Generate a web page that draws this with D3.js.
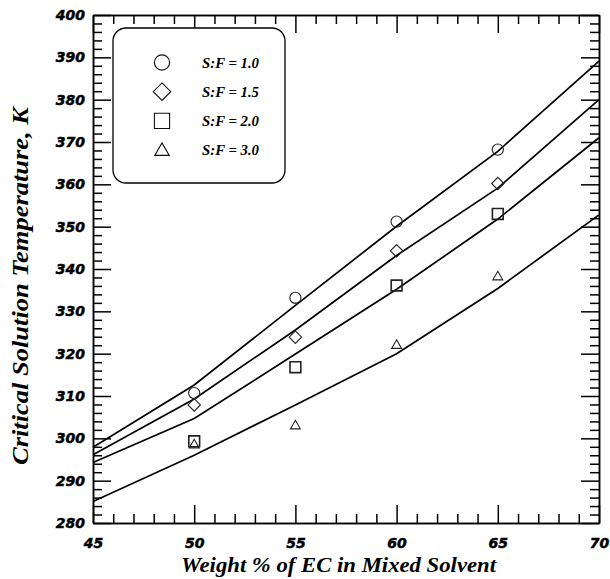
<!DOCTYPE html>
<meta charset="utf-8">
<script src="https://d3js.org/d3.v7.min.js"></script>
<style>
  body { margin: 0; background: #fff; }
  .tick text { font-family: "DejaVu Sans", sans-serif; font-weight: bold; font-style: italic; font-size: 14px; fill: #000; stroke: #000; stroke-width: 0.5px; }
  .axis path, .axis line { stroke: #000; stroke-width: 1.5; }
  .lbl { font-family: "Liberation Serif", serif; font-weight: bold; font-style: italic; fill: #000; }
</style>
<div id="chart"></div>
<script>
    // weight % of EC where the model lines are given
    const wt = [45, 50, 55, 60, 65, 70];
    const line10 = [297.9, 312.6, 331.4, 350.1, 367.8, 389.1];
    const line15 = [296.1, 309.3, 325.6, 343.2, 359.1, 380.0];
    const line20 = [294.3, 304.7, 319.9, 335.2, 351.8, 371.0];
    const line30 = [285.1, 296.0, 307.9, 320.0, 335.4, 352.8];

    // experimental points
    const wtExp = [50, 55, 60, 65];
    const exp10 = [310.7, 333.2, 351.2, 368.2];
    const exp15 = [307.9, 323.9, 344.3, 360.2];
    const exp20 = [299.3, 316.8, 336.1, 353.0];
    const exp30 = [298.6, 303.1, 322.1, 338.3];

    const seriesNames = ["S:F = 1.0", "S:F = 1.5", "S:F = 2.0", "S:F = 3.0"];
    const shapes = ["circle", "diamond", "square", "triangle"];

    const xTicks = [45, 50, 55, 60, 65, 70];
    const yTicks = [280, 290, 300, 310, 320, 330, 340, 350, 360, 370, 380, 390, 400];

    const margin = {top: 15, right: 11, bottom: 56, left: 93},
          width = 610 - margin.left - margin.right,
          height = 579 - margin.top - margin.bottom;

    const svg = d3.select("#chart")
                .append("svg")
                .attr("width", 610)
                .attr("height", 579)
                .append("g")
                .attr("transform", `translate(${margin.left}, ${margin.top})`);

    const x = d3.scaleLinear().domain([45, 70]).range([0, width]);
    const y = d3.scaleLinear().domain([280, 400]).range([height, 0]);

    const xMinor = d3.range(45, 71, 1).filter(d => d % 5 !== 0);
    const yMinor = d3.range(280, 401, 2).filter(d => d % 10 !== 0);

    // bottom axis
    svg.append("g").attr("class", "axis")
        .attr("transform", `translate(0, ${height})`)
        .call(d3.axisBottom(x).tickValues(xTicks).tickSize(-18).tickSizeOuter(0).tickPadding(15));
    svg.append("g").attr("class", "axis")
        .attr("transform", `translate(0, ${height})`)
        .call(d3.axisBottom(x).tickValues(xMinor).tickSize(-9).tickSizeOuter(0).tickFormat(""));
    // top axis
    svg.append("g").attr("class", "axis")
        .call(d3.axisTop(x).tickValues(xTicks).tickSize(-18).tickSizeOuter(0).tickFormat(""));
    svg.append("g").attr("class", "axis")
        .call(d3.axisTop(x).tickValues(xMinor).tickSize(-9).tickSizeOuter(0).tickFormat(""));
    // left axis
    svg.append("g").attr("class", "axis")
        .call(d3.axisLeft(y).tickValues(yTicks).tickSize(-18).tickSizeOuter(0).tickPadding(8));
    svg.append("g").attr("class", "axis")
        .call(d3.axisLeft(y).tickValues(yMinor).tickSize(-9).tickSizeOuter(0).tickFormat(""));
    // right axis
    svg.append("g").attr("class", "axis")
        .attr("transform", `translate(${width}, 0)`)
        .call(d3.axisRight(y).tickValues(yTicks).tickSize(-18).tickSizeOuter(0).tickFormat(""));
    svg.append("g").attr("class", "axis")
        .attr("transform", `translate(${width}, 0)`)
        .call(d3.axisRight(y).tickValues(yMinor).tickSize(-9).tickSizeOuter(0).tickFormat(""));

    // model lines
    const line = d3.line().x((d, i) => x(wt[i])).y(d => y(d));
    [line10, line15, line20, line30].forEach(function(vals) {
        svg.append("path")
            .datum(vals)
            .attr("d", line)
            .attr("fill", "none")
            .attr("stroke", "#000")
            .attr("stroke-width", 1.7);
    });

    // marker drawing
    function symbolPath(shape, s) {
        if (shape == "circle") return d3.symbol().type(d3.symbolCircle).size(Math.PI * s * s)();
        if (shape == "square") return `M${-s},${-s}H${s}V${s}H${-s}Z`;
        if (shape == "diamond") { const r = s * 1.15; return `M0,${-r}L${r},0L0,${r}L${-r},0Z`; }
        return `M0,${-s * 0.95}L${s * 0.95},${s * 0.7}L${-s * 0.95},${s * 0.7}Z`;
    }

    const expData = [exp10, exp15, exp20, exp30];
    const markerSize = [5.6, 5.4, 5.4, 5.2];
    expData.forEach(function(vals, k) {
        svg.append("g")
            .selectAll("path")
            .data(vals)
            .join("path")
                .attr("transform", (d, i) => `translate(${x(wtExp[i])}, ${y(d)})`)
                .attr("d", symbolPath(shapes[k], markerSize[k]))
                .attr("fill", "none")
                .attr("stroke", "#222")
                .attr("stroke-width", k == 2 ? 1.6 : 1.1);
    });

    // legend
    const legend = svg.append("g").attr("transform", "translate(20, 13)");
    legend.append("rect")
        .attr("width", 172).attr("height", 155).attr("rx", 13)
        .attr("fill", "#fff").attr("stroke", "#000").attr("stroke-width", 1.3);
    seriesNames.forEach(function(name, k) {
        const yy = 34.5 + k * 29.2;
        legend.append("path")
            .attr("transform", `translate(49, ${yy})`)
            .attr("d", symbolPath(shapes[k], 7.6))
            .attr("fill", "none").attr("stroke", "#111").attr("stroke-width", 1.1);
        legend.append("text")
            .attr("class", "lbl")
            .attr("x", 89).attr("y", yy + 5)
            .attr("font-size", "14px")
            .attr("textLength", 57)
            .attr("lengthAdjust", "spacingAndGlyphs")
            .text(name);
    });

    // axis titles
    svg.append("text")
        .attr("class", "lbl")
        .attr("x", width / 2 - 7.5).attr("y", height + 49)
        .attr("text-anchor", "middle")
        .attr("font-size", "22px")
        .attr("textLength", 315)
        .attr("lengthAdjust", "spacingAndGlyphs")
        .text("Weight % of EC in Mixed Solvent");

    svg.append("text")
        .attr("class", "lbl")
        .attr("transform", `translate(-65, ${height / 2 + 17}) rotate(-90)`)
        .attr("text-anchor", "middle")
        .attr("font-size", "23px")
        .attr("textLength", 358)
        .attr("lengthAdjust", "spacingAndGlyphs")
        .text("Critical Solution Temperature, K");
</script>
